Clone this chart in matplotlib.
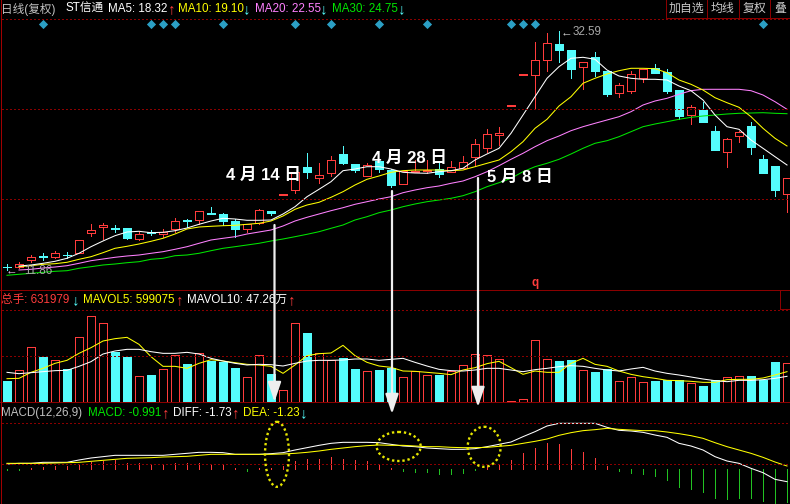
#!/usr/bin/env python
"""Daily K-line screen: candles + MA, volume + MAVOL, MACD, with hand-drawn arrows on top.
Panel levels are read off the screen, so each panel's y axis runs top-down."""
import numpy as np
import matplotlib
matplotlib.use("Agg")
import matplotlib.pyplot as plt
from matplotlib.patches import Ellipse

plt.rcParams["font.family"] = ["Liberation Sans", "Noto Sans CJK SC", "DejaVu Sans"]

RED, CYAN, DIM = "#ff3c3c", "#54fcfc", "#8a0000"
YELLOW, PINK, GREEN = "#ffff00", "#ff80ff", "#00e600"
THIN = 0.4    # aliased lines come out about one pixel wide at this width
CURVE = 0.75  # sloped curves stay antialiased, aliased diagonals fatten up
nan = np.nan

# candle direction, 1 = up (hollow red), 0 = down (solid cyan)
up = [0,1,1,0,1,0,1,1,1,0, 0,1,0,1,1,0,1,0,0,0, 1,1,0,1,1,0,1,1,0,0, 1,0,0,
      1,1,1,0,1,1,1,1,1,1, 1,1,1,0,0,1,0,0,1,1, 1,0,0,0,1,0,0,1,1,0, 0,0,1]
body_top = [266.5,263.7,257.3,256,253.3,254.5,240.3,230.3,225.3,228,
            228.3,233.7,232,232.3,221.3,220,211.3,213,214.3,221.3,
            224.3,210.3,211.3,194,172,167,175.3,160.3,154,164,
            165.3,161,170,171,171,170,169,167.3,162.3,144.3,
            134.3,133.3,105,74,60.3,43.3,44,50,62.3,57,
            71,85.3,74.3,69.3,68.3,72,90,107.3,110,131,
            139.3,132.3,126,159,166,178.3]
body_bot = [267,267.3,259.7,256.5,256.7,255,252.7,232.7,226.7,228.5,
            237.7,238.7,232.5,233.7,228.7,220.5,219.7,213.5,220.7,228.7,
            228.7,223.3,213,194.5,189.7,171.7,177.7,172.7,163,169.7,
            175.7,169,185,184,171.5,170.5,174,171.7,167.7,156.7,
            147.7,134.7,105.5,74.5,74.7,59.7,50,69,66.7,71,
            94,92.7,90.7,77.7,73,91,116,115,122,150,
            151.7,135.7,147,173,190,193.7]
wick_high = [264,262,255.3,252.7,251,251.7,240.3,224,223,225,
             228,231.7,229.7,229,218,219,211.3,207,213,219.3,
             224,209,211,194,172,153.3,163.3,156,146,164,
             163.3,161,169,171,160,160,163,161.3,156,139.3,
             129,127,105,74,42,33,31,50,62.3,51.7,
             71,83.3,70.7,69.3,64,69.3,90,105,101.7,126,
             138.3,130.7,122,155,166,178.3]
wick_low = [270,268,261.7,260,258,258,253.3,236,239.3,232,
            239,240,235.3,237.3,231.7,226.7,224.3,214,225,236.7,
            232,224,214.7,194.5,192.7,177.7,183.3,176,163.7,172,
            175.7,171.7,186.7,184,171.5,172.7,176.7,171.7,168,165.7,
            151.7,145,105.5,74.5,107.7,70.7,62,78,89.3,76,
            96,97,92.7,81.7,73,92.7,119.3,124,122,150,
            166.7,141.7,154,173,196,211.7]

ma5 = [nan,266,265,263.3,261.3,258.3,253.3,246.7,241,235.7,232,231.3,232.7,232.3,230.7,228,
       224.3,221,218.3,219,220.3,220.3,220,214,206.7,196.7,189.3,181.7,170.7,169,166.7,166.7,169,
       172.3,173,173.3,171.7,170.7,168.3,160,154,148.3,133.3,115,96.7,78.3,66.7,58.3,57.3,59.3,
       70,76,78.3,79.3,79.3,80,86,90.7,100,115,126.7,129.3,140,148.3,156.7,165]
ma10 = [nan,266.7,265.7,264.3,263.7,262.3,259.3,256.7,252.7,248.3,246.3,244,241.3,238.3,234,229,
        227,226.3,225.7,225.3,224.3,223.3,221,216,209.3,205,202.3,197.3,191.7,185,179.3,176,172.3,
        170.7,170,170,170,170.7,170,166.7,163.3,160,151.7,141.7,128.3,119.3,106,96.7,83.3,78.3,
        74,70.7,68.3,68.3,68.7,72.7,80,84.3,90,97.7,102.7,107.3,116.7,128.3,138.3,146]
ma20 = [nan,270,269.3,268,267,265.7,263.3,260.7,259,257.3,256,255,253.3,251.7,249.3,246.7,
        243.3,240,238.3,236.7,234,232,230,226,221,217.3,214,210.7,207.7,204.3,201.7,199,196.7,
        192.7,190,187.7,186,183.3,181,176.7,171.7,165.7,159.3,153.3,146.7,140.7,136,130.7,126.7,123.3,
        120,116.7,111.7,105,101,98.3,94.3,90.7,89.3,89.3,89.3,89.3,90.7,95,101.7,109.3]
ma30 = [275.3,274.3,273.3,272.3,271.3,270.7,268.3,266.7,265,264,262.7,261.7,259.3,258.3,255.7,255,
        253.3,250.7,248.3,246.7,245,243.3,241,239,236.7,234.3,231.7,228.3,225,220,216.7,212.7,210,
        206.7,204,201.7,200,198.3,195.7,191.7,186.7,182.7,178.3,171.7,166.7,163.3,159.3,154,148.3,143.3,
        140.7,136.7,131.7,126.7,124,121.7,119.3,117.3,116,115,114,113.3,113,112.7,113.3,113.7]
signal_marks = [3, 12, 13, 14, 18, 24, 27, 31, 35, 42, 43, 44, 63]   # blue diamonds on top

# volume panel
vol_top = [288,256,187,216,226,252,157,94,115,201,216,274,270,253,211,237,205,227,231,249,
           277,211,267,316,115,144,205,226,219,252,259,255,249,
           277,259,271,270,257,241,208,211,223,349,343,166,223,228,225,256,261,253,
           289,277,292,288,286,286,295,303,286,277,274,273,284,231,235]
mavol5 = [281,280,262,250,235,226,205,188,168,161,157,178,215,244,244,250,235,224,228,233,
          238,240,244,265,240,212,206,204,181,212,232,243,247,
          258,259,262,265,269,255,248,236,229,248,268,258,262,262,235,220,238,244,
          258,268,275,280,286,287,289,292,292,284,283,283,279,270,260]
mavol10 = [262,266,263,260,257,256,244,230,207,198,193,193,200,205,205,202,207,220,228,235,
           240,238,239,243,235,228,226,226,225,222,222,226,223,
           220,232,243,253,257,258,255,250,250,255,260,254,250,245,242,244,250,255,
           258,252,247,258,265,270,276,282,287,290,286,286,284,280,274]

# MACD panel
diff = [192,190,190,187,187,187,180,174,170,166,166,166,166,166,163,160,157,157,158,163,
        163,163,161,158,150,143,136,130,127,127,127,128,133,
        138,140,144,146,148,148,146,140,133,126,110,95,78,70,70,70,70,82,
        91,93,97,105,112,130,138,150,170,183,190,205,218,238,245]
dea = [190,190,190,190,189,188,187,184,181,178,175,174,173,171,170,169,166,163,163,163,
       163,163,163,162,160,157,153,148,144,140,137,135,136,
       136,138,140,140,142,143,143,142,139,136,130,124,117,106,98,92,89,85,
       88,90,92,92,96,101,107,115,128,140,150,160,172,186,198]
macd_end = [211,211,204,202,198,197,192,186,184,180,190,190,193,194,190,188,190,192,195,204,
            213,204,204,197,183,178,177,171,177,180,183,192,204,
            213,215,215,221,221,218,211,198,193,180,160,144,130,132,148,156,174,198,
            213,219,221,228,239,261,267,276,294,297,294,294,303,312,306]
MACD_ZERO = 208

n = len(up)
x = np.arange(n)
colors = [RED if u else CYAN for u in up]
fig = plt.figure(figsize=(7.9, 5.04), dpi=100, facecolor="black")


def panel(top, bottom, y_range):
    # panel placed by screen rows; candle i sits at pixel 7 + 12 i
    ax = fig.add_axes([0, 1 - bottom / 504, 1, (bottom - top) / 504])
    ax.set_xlim(-7 / 12, 783 / 12)
    ax.set_ylim(*y_range)
    ax.axis("off")
    return ax


# ── candles ──
ax = panel(0, 290, (290, 0))
ax.vlines(x, wick_high, wick_low, colors=colors, lw=THIN, zorder=2, antialiased=False)
for i in x:
    solid = colors[i] if not up[i] else "black"
    ax.bar(i, body_bot[i] - body_top[i], bottom=body_top[i], width=0.68,
           facecolor=solid, edgecolor=colors[i], lw=THIN, zorder=3, antialiased=False)
for ma, c in ((ma30, GREEN), (ma20, PINK), (ma10, YELLOW), (ma5, "white")):
    ax.plot(x, ma, color=c, lw=CURVE, zorder=4)
ax.scatter(signal_marks, [23.5] * len(signal_marks), marker="D", s=22, color="#2b9fc4", lw=0, zorder=5)

# ── volume ──
vx = panel(285, 401.67, (350, 0))
for i in x:
    vx.bar(i, 350 - vol_top[i], bottom=vol_top[i], width=0.7,
           facecolor=CYAN if not up[i] else "black", edgecolor=colors[i], lw=THIN, zorder=2, antialiased=False)
vx.plot(x, mavol5, color=YELLOW, lw=CURVE, zorder=3)
vx.plot(x, mavol10, color="white", lw=CURVE, zorder=3)

# ── MACD ──
mx = panel(400, 504, (312, 0))
mx.vlines(x, MACD_ZERO, macd_end, colors=[RED if v < MACD_ZERO else "#22c122" for v in macd_end],
          lw=THIN, zorder=2, antialiased=False)
mx.plot(x, diff, color="white", lw=CURVE, zorder=3)
mx.plot(x, dea, color=YELLOW, lw=CURVE, zorder=4)

# ── overlay in screen pixels: frame, labels, arrows, circles ──
ov = fig.add_axes([0, 0, 1, 1], facecolor="none")
ov.set_xlim(0, 790)
ov.set_ylim(504, 0)
ov.axis("off")
for y in (19.3, 109.3, 199.3, 310.3, 356.3, 423.3, 464.3):
    ov.plot([2, 790], [y, y], color=DIM, lw=THIN, ls=(0, (2, 5)), zorder=1, antialiased=False)
for y in (289.5, 402.3):
    ov.plot([0, 790], [y, y], color=DIM, lw=THIN, antialiased=False)
ov.plot([1, 1], [0, 504], color="#a00000", lw=0.7, antialiased=False)
ov.plot([780, 780, 790], [289.5, 308.7, 308.7], color=DIM, lw=THIN, antialiased=False)

for left, right, label in ((665.7, 707, "加自选"), (707, 738.7, "均线"), (738.7, 769.7, "复权"), (769.7, 790, "叠")):
    ov.plot([left, left, right], [0, 18, 18], color=DIM, lw=THIN, antialiased=False)
    ov.text((left + right) / 2, 9, label, color="#c8c8c8", fontsize=8.6, ha="center", va="center")


def row(y, items, size=8.4):
    for px, s, c in items:
        big = s in ("↑", "↓")
        ov.text(px, y, s, color=c, fontsize=11 if big else size, ha="left", va="center",
                fontweight="bold" if big else "normal")


row(9, [(1, "日线(复权)", "#c0c0c0"), (65, "ST信通", "white"), (108, "MA5: 18.32", "white"),
        (168, "↑", RED), (178, "MA10: 19.10", YELLOW), (243, "↓", CYAN),
        (255, "MA20: 22.55", PINK), (320, "↓", CYAN), (332, "MA30: 24.75", GREEN), (398, "↓", CYAN)])
row(300, [(1, "总手: 631979", RED), (72, "↓", CYAN), (83, "MAVOL5: 599075", YELLOW), (176, "↑", RED),
          (187, "MAVOL10: 47.26万", "white"), (288, "↑", RED)])
row(413, [(1, "MACD(12,26,9)", "#c0c0c0"), (88, "MACD: -0.991", GREEN), (162, "↑", RED),
          (173, "DIFF: -1.73", "white"), (232, "↑", RED), (243, "DEA: -1.23", YELLOW), (300, "↓", CYAN)])
ov.text(573, 32, "32.59", color="#a8a8a8", fontsize=8.4, va="center")
ov.text(561, 32, "←", color="#c8c8c8", fontsize=8.4, va="center")
ov.text(24, 271, "11.86", color="#a8a8a8", fontsize=8.4, va="center")
ov.text(6, 270, "←", color="#e0b0e0", fontsize=8.4, va="center")
ov.text(535, 283, "q", color=RED, fontsize=8.4, fontweight="bold", ha="center", va="center")

for px, py, s in ((263, 175, "4 月 14 日"), (409, 158, "4 月 28 日"), (520, 177, "5 月 8 日")):
    ov.text(px, py, s, color="white", fontsize=12, fontweight="bold", ha="center", va="center", zorder=8)

for px, y0, y1 in ((274.5, 225, 402), (392, 191, 414), (478, 178, 407)):
    ov.annotate("", xy=(px, y1), xytext=(px, y0), zorder=7,
                arrowprops=dict(arrowstyle="-|>,head_length=1.2,head_width=0.4", color="#eeeeee",
                                lw=1.6, shrinkA=0, shrinkB=0))

for cx, cy, w, h in ((277, 454.3, 24, 65), (398.7, 446.5, 44, 29), (484.2, 446.8, 33, 40)):
    ov.add_patch(Ellipse((cx, cy), w, h, fill=False, edgecolor="#e6e600", lw=1.7, ls=(0, (1, 1.2)), zorder=7))

fig.savefig("out.png", dpi=100, facecolor="black")
